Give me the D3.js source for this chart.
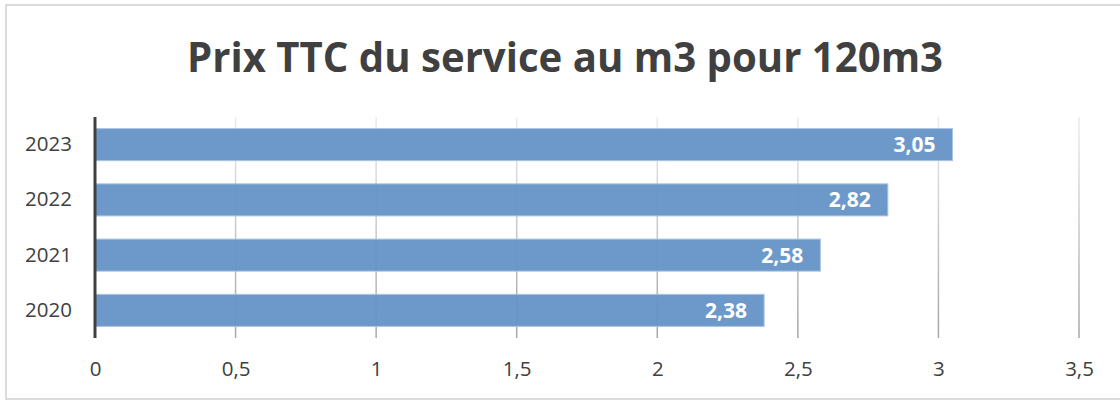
<!DOCTYPE html>
<html><head><meta charset="utf-8">
<script src="https://cdn.jsdelivr.net/npm/d3@7"></script>
<style>html,body{margin:0;padding:0;background:#fff;}svg{display:block;}</style>
</head><body>
<svg id="chart" width="1120" height="401"></svg>
<script>
const title = "Prix TTC du service au m3 pour 120m3";
const categories = ["2023", "2022", "2021", "2020"];
const values = [3.05, 2.82, 2.58, 2.38];
const tickValues = [0, 0.5, 1, 1.5, 2, 2.5, 3, 3.5];
const tickLabels = ["0", "0,5", "1", "1,5", "2", "2,5", "3", "3,5"];
const valueLabels = ["3,05", "2,82", "2,58", "2,38"];

const svg = d3.select("#chart");
const font = "'Open Sans', 'DejaVu Sans', sans-serif";
const txt = "#404040";

// outer border
svg.append("rect").attr("x", 6).attr("y", 5).attr("width", 1130).attr("height", 394)
  .attr("fill", "#fff").attr("stroke", "#d0d0d0").attr("stroke-width", 1.5);

const defs = svg.append("defs");
const grad = defs.append("linearGradient").attr("id", "gridGrad")
  .attr("gradientUnits", "userSpaceOnUse").attr("x1", 0).attr("y1", 117).attr("x2", 0).attr("y2", 338);
grad.append("stop").attr("offset", "0%").attr("stop-color", "#ececec");
grad.append("stop").attr("offset", "100%").attr("stop-color", "#a6a6a6");

const x = d3.scaleLinear().domain([0, 3.5]).range([95, 1079]);
const y = d3.scaleBand().domain(categories).range([117, 338]).paddingInner(0.42).paddingOuter(0.21);

// title
const t = svg.append("text").attr("x", 565).attr("y", 72).attr("text-anchor", "middle")
  .attr("font-family", font).attr("font-weight", 700).attr("font-size", 42).attr("fill", txt)
  .text(title);
const w = t.node().getComputedTextLength();
if (w > 756) t.attr("textLength", 756).attr("lengthAdjust", "spacingAndGlyphs");

// gridlines
svg.append("g").selectAll("line").data(tickValues.filter(d => d > 0)).join("line")
  .attr("x1", d => x(d)).attr("x2", d => x(d)).attr("y1", 117).attr("y2", 338)
  .attr("stroke", "url(#gridGrad)").attr("stroke-width", 1.5);

// bars
svg.append("g").selectAll("rect").data(values).join("rect")
  .attr("x", x(0)).attr("y", (d, i) => y(categories[i]))
  .attr("width", d => x(d) - x(0)).attr("height", y.bandwidth())
  .attr("fill", "#6593c7").attr("fill-opacity", 0.95)
  .attr("stroke", "#a9c3e2").attr("stroke-width", 1);

// value labels
svg.append("g").selectAll("text").data(values).join("text")
  .attr("x", d => x(d) - 17).attr("y", (d, i) => y(categories[i]) + y.bandwidth() / 2)
  .attr("dy", "0.36em").attr("text-anchor", "end")
  .attr("font-family", font).attr("font-weight", 700).attr("font-size", 21).attr("fill", "#fff")
  .text((d, i) => valueLabels[i]);

// x axis labels
const xAxis = d3.axisBottom(x).tickValues(tickValues).tickSize(0).tickPadding(0)
  .tickFormat((d, i) => tickLabels[i]);
const gx = svg.append("g").attr("transform", "translate(0,361)").call(xAxis);
gx.select(".domain").remove();
gx.selectAll("text").attr("font-family", font).attr("font-size", 20.5).attr("fill", txt).attr("dy", "0.71em");

// y axis labels
const yAxis = d3.axisLeft(y).tickSize(0).tickPadding(0);
const gy = svg.append("g").attr("transform", "translate(72,0)").call(yAxis);
gy.select(".domain").remove();
gy.selectAll("text").attr("font-family", font).attr("font-size", 20.5).attr("fill", txt);

// vertical axis line
svg.append("line").attr("x1", x(0)).attr("x2", x(0)).attr("y1", 117).attr("y2", 338)
  .attr("stroke", "#404040").attr("stroke-width", 3);
</script>
</body></html>
